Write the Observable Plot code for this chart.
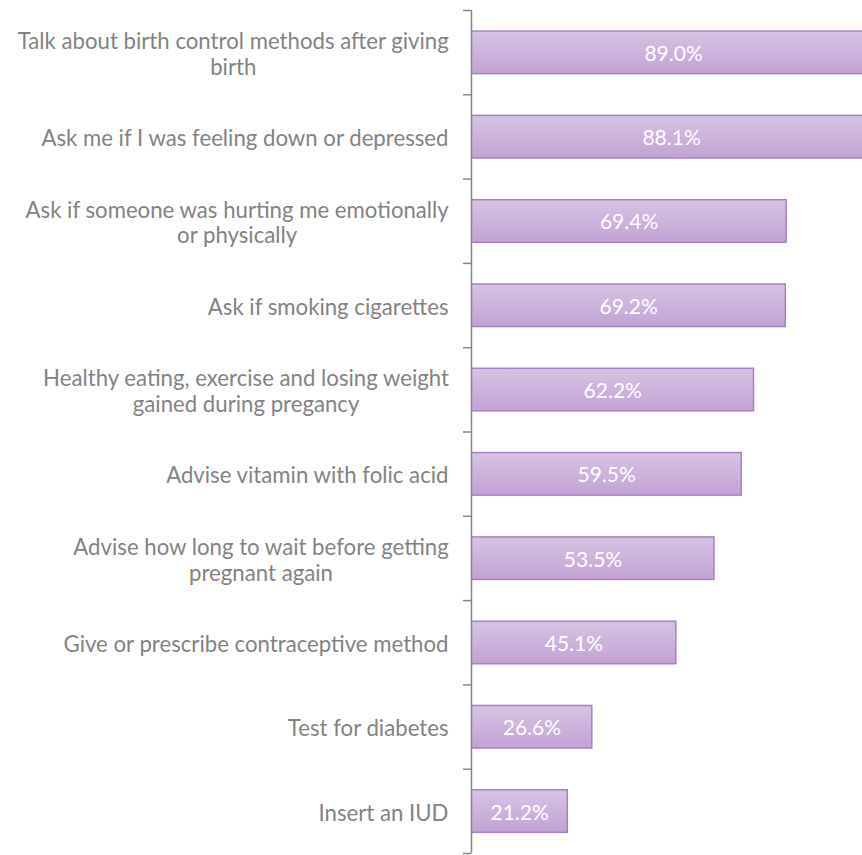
<!DOCTYPE html>
<html>
<head>
<meta charset="utf-8">
<script src="https://cdn.jsdelivr.net/npm/d3@7"></script>
<script src="https://cdn.jsdelivr.net/npm/@observablehq/plot@0.6"></script>
<style>
  body { margin: 0; background: #fff; }
  #chart svg { display: block; }
</style>
</head>
<body>
<div id="chart"></div>
<script>
const categories = [
  "Talk about birth control methods after giving\nbirth",
  "Ask me if I was feeling down or depressed",
  "Ask if someone was hurting me emotionally\nor physically",
  "Ask if smoking cigarettes",
  "Healthy eating, exercise and losing weight\ngained during pregancy",
  "Advise vitamin with folic acid",
  "Advise how long to wait before getting\npregnant again",
  "Give or prescribe contraceptive method",
  "Test for diabetes",
  "Insert an IUD"
];
const values = [89.0, 88.1, 69.4, 69.2, 62.2, 59.5, 53.5, 45.1, 26.6, 21.2];

const rows = categories.map((c, i) => ({category: c, value: values[i], idx: i}));
const boundaries = d3.range(0, categories.length + 1);
const centers = categories.map((c, i) => i + 0.5);

const defs = () => {
  const ns = "http://www.w3.org/2000/svg";
  const d = document.createElementNS(ns, "defs");
  const g = document.createElementNS(ns, "linearGradient");
  g.setAttribute("id", "barGrad");
  g.setAttribute("x1", "0"); g.setAttribute("y1", "0");
  g.setAttribute("x2", "0"); g.setAttribute("y2", "1");
  [["0%", "#d6c4e4"], ["100%", "#c2a2d4"]].forEach(([o, c]) => {
    const s = document.createElementNS(ns, "stop");
    s.setAttribute("offset", o); s.setAttribute("stop-color", c);
    g.appendChild(s);
  });
  d.appendChild(g);
  return d;
};

const chart = Plot.plot({
  width: 862,
  height: 855,
  marginLeft: 471,
  marginRight: 0,
  marginTop: 10,
  marginBottom: 2,
  style: {fontFamily: "Lato, sans-serif", background: "#fff"},
  x: {domain: [0, 86.1], axis: null},
  y: {domain: [0, categories.length], reverse: true, axis: null},
  marks: [
    defs,
    Plot.rectX(rows, {
      x1: 0, x2: "value",
      y1: d => d.idx + 0.25, y2: d => d.idx + 0.755,
      fill: "url(#barGrad)", stroke: "#a881c4", strokeWidth: 1.5,
      clip: true
    }),
    Plot.text(rows, {
      x: d => d.value / 2, y: d => d.idx + 0.5,
      text: d => d.value.toFixed(1) + "%",
      fill: "white", fontSize: 21, dy: 1.5
    }),
    Plot.axisY({
      ticks: boundaries, tickFormat: () => "", tickSize: 8,
      stroke: "#868686", strokeWidth: 1.5
    }),
    Plot.axisY({
      ticks: centers, tickSize: 0, tickPadding: 23, dy: 1,
      tickFormat: (d) => categories[Math.round(d - 0.5)],
      fill: "#838383", fontSize: 22.2, lineHeight: 1.16
    }),
    Plot.ruleX([0], {stroke: "#868686", strokeWidth: 1.5})
  ]
});
document.getElementById("chart").appendChild(chart);

// center-align the lines of multi-line labels within their right-aligned block
chart.querySelectorAll("text").forEach(t => {
  const spans = t.querySelectorAll("tspan");
  if (spans.length < 2) return;
  let right = -Infinity, maxW = 0;
  spans.forEach(s => {
    const b = s.getBBox();
    right = Math.max(right, b.x + b.width);
    maxW = Math.max(maxW, b.width);
  });
  const cx = right - maxW / 2;
  t.setAttribute("text-anchor", "middle");
  spans.forEach(s => s.setAttribute("x", cx));
});
</script>
</body>
</html>
